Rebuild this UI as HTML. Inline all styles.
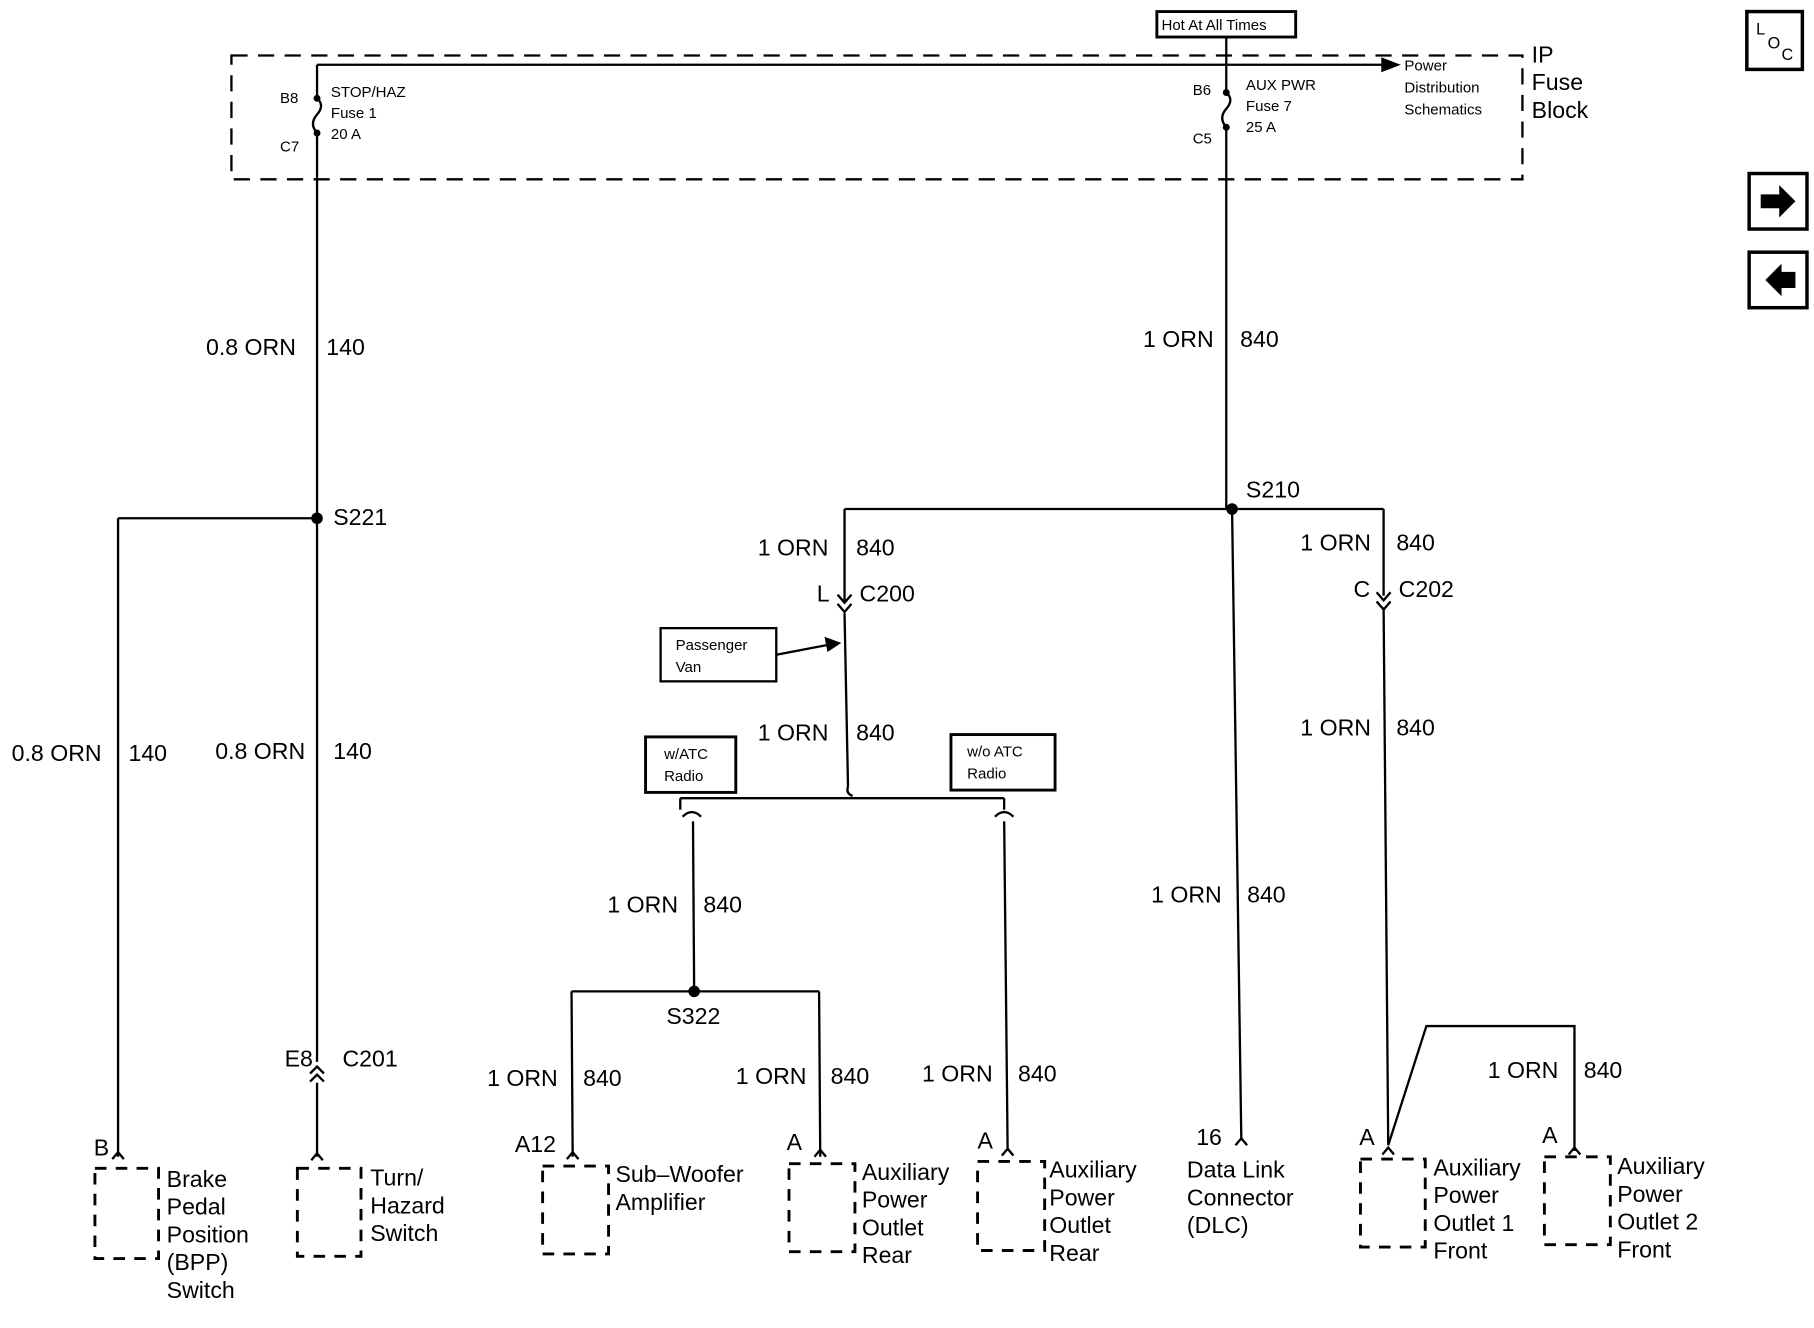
<!DOCTYPE html>
<html><head><meta charset="utf-8"><style>
html,body{margin:0;padding:0;background:#fff;}
svg{display:block;}
text{font-family:"Liberation Sans",Arial,sans-serif;fill:#000;}
</style></head><body>
<svg width="1814" height="1328" viewBox="0 0 1568 1148" xmlns="http://www.w3.org/2000/svg">
<g stroke="#000" stroke-width="2" fill="none">
<path d="M200 48 H1316 V155 H200 Z" stroke-dasharray="14,9"/>
<rect x="1000" y="10" width="120" height="22" stroke-width="2.5"/>
<line x1="1060" y1="32" x2="1060" y2="56"/>
<line x1="274" y1="56" x2="1195" y2="56"/>
<polygon points="1195,51 1208,56 1195,61" fill="#000"/>
<line x1="274" y1="56" x2="274" y2="85"/>
<path d="M274 85 q7 6 0 14 q-7 8 0 16"/>
<line x1="274" y1="115" x2="274" y2="918"/>
<line x1="274" y1="936" x2="274" y2="1000"/>
<line x1="1060" y1="56" x2="1060" y2="80"/>
<path d="M1060 80 q7 6 0 14 q-7 8 0 16"/>
<line x1="1060" y1="110" x2="1060" y2="440"/>
<line x1="102" y1="448" x2="274" y2="448"/>
<line x1="102" y1="448" x2="102" y2="1000"/>
<line x1="730" y1="440" x2="1196" y2="440"/>
<line x1="1065" y1="440" x2="1073" y2="985"/>
<line x1="730" y1="440" x2="730" y2="520"/>
<line x1="730" y1="530" x2="733" y2="680"/>
<line x1="1196" y1="440" x2="1196" y2="515"/>
<line x1="1196" y1="525" x2="1200" y2="990"/>
<path d="M724 514 l6 7 l6 -7 M724 522 l6 7 l6 -7"/>
<path d="M1190 512 l6 7 l6 -7 M1190 520 l6 7 l6 -7"/>
<rect x="571" y="543" width="100" height="46"/>
<line x1="671" y1="566" x2="718" y2="557"/>
<polygon points="714,552 725,556 716,562" fill="#000"/>
<path d="M733 680 q-2 6 4 8"/>
<line x1="588" y1="690" x2="868" y2="690"/>
<line x1="588" y1="690" x2="588" y2="700"/>
<line x1="868" y1="690" x2="868" y2="700"/>
<path d="M590 706 q8 -8 16 0 M860 706 q8 -8 16 0"/>
<rect x="558" y="637" width="78" height="48" stroke-width="2.5"/>
<rect x="822" y="635" width="90" height="48" stroke-width="2.5"/>
<line x1="599" y1="710" x2="600" y2="857"/>
<line x1="868" y1="710" x2="871" y2="995"/>
<line x1="494" y1="857" x2="708" y2="857"/>
<line x1="494" y1="857" x2="495" y2="1000"/>
<line x1="708" y1="857" x2="709" y2="1000"/>
<polyline points="1200,990 1233,887 1361,887 1361,995"/>
<path d="M268 928 l6 -6 l6 6 M268 935 l6 -6 l6 6"/>
<path d="M97 1002 l5 -6 l5 6 M269 1003 l5 -6 l5 6 M490 1002 l5 -6 l5 6 M704 1000 l5 -6 l5 6 M866 999 l5 -6 l5 6 M1068 990 l5 -6 l5 6 M1195 998 l5 -6 l5 6 M1356 998 l5 -6 l5 6"/>
<g stroke-dasharray="10,8" stroke-width="2.5">
<rect x="82" y="1010" width="55" height="78"/>
<rect x="257" y="1010" width="55" height="76"/>
<rect x="469" y="1008" width="57" height="76"/>
<rect x="682" y="1006" width="57" height="76"/>
<rect x="845" y="1004" width="58" height="77"/>
<rect x="1176" y="1002" width="56" height="76"/>
<rect x="1335" y="1000" width="57" height="76"/>
</g>
<rect x="1510" y="10" width="48" height="50" stroke-width="3"/>
<rect x="1512" y="150" width="50" height="48" stroke-width="3"/>
<rect x="1512" y="218" width="50" height="48" stroke-width="3"/>
</g>
<g fill="#000">
<circle cx="274" cy="448" r="5"/>
<circle cx="1065" cy="440" r="5"/>
<circle cx="600" cy="857" r="5"/>
<circle cx="274" cy="85" r="3"/><circle cx="274" cy="115" r="3"/>
<circle cx="1060" cy="80" r="3"/><circle cx="1060" cy="110" r="3"/>
<polygon points="1522,168 1538,168 1538,160 1552,174 1538,188 1538,180 1522,180"/>
<polygon points="1552,235 1540,235 1540,228 1526,242 1540,256 1540,249 1552,249"/>
</g>
<g font-size="13">
<text x="1004" y="26">Hot At All Times</text>
<text x="286" y="84">STOP/HAZ</text><text x="286" y="102">Fuse 1</text><text x="286" y="120">20 A</text>
<text x="242" y="89">B8</text><text x="242" y="131">C7</text>
<text x="1077" y="78">AUX PWR</text><text x="1077" y="96">Fuse 7</text><text x="1077" y="114">25 A</text>
<text x="1031" y="82">B6</text><text x="1031" y="124">C5</text>
<text x="1214" y="61">Power</text><text x="1214" y="80">Distribution</text><text x="1214" y="99">Schematics</text>
<text x="584" y="562">Passenger</text><text x="584" y="581">Van</text>
<text x="574" y="656">w/ATC</text><text x="574" y="675">Radio</text>
<text x="836" y="654">w/o ATC</text><text x="836" y="673">Radio</text>
</g>
<g font-size="20">
<text x="1324" y="54">IP</text><text x="1324" y="78">Fuse</text><text x="1324" y="102">Block</text>
<text x="1518" y="30" font-size="14">L</text><text x="1528" y="42" font-size="14">O</text><text x="1540" y="52" font-size="14">C</text>
<text x="178" y="307">0.8 ORN</text><text x="282" y="307">140</text>
<text x="988" y="300">1 ORN</text><text x="1072" y="300">840</text>
<text x="288" y="454">S221</text>
<text x="1077" y="430">S210</text>
<text x="655" y="480">1 ORN</text><text x="740" y="480">840</text>
<text x="706" y="520">L</text><text x="743" y="520">C200</text>
<text x="1124" y="476">1 ORN</text><text x="1207" y="476">840</text>
<text x="1170" y="516">C</text><text x="1209" y="516">C202</text>
<text x="655" y="640">1 ORN</text><text x="740" y="640">840</text>
<text x="1124" y="636">1 ORN</text><text x="1207" y="636">840</text>
<text x="10" y="658">0.8 ORN</text><text x="111" y="658">140</text>
<text x="186" y="656">0.8 ORN</text><text x="288" y="656">140</text>
<text x="525" y="789">1 ORN</text><text x="608" y="789">840</text>
<text x="995" y="780">1 ORN</text><text x="1078" y="780">840</text>
<text x="576" y="885">S322</text>
<text x="246" y="922">E8</text><text x="296" y="922">C201</text>
<text x="421" y="939">1 ORN</text><text x="504" y="939">840</text>
<text x="636" y="937">1 ORN</text><text x="718" y="937">840</text>
<text x="797" y="935">1 ORN</text><text x="880" y="935">840</text>
<text x="1286" y="932">1 ORN</text><text x="1369" y="932">840</text>
<text x="81" y="999">B</text><text x="445" y="996">A12</text><text x="680" y="994">A</text>
<text x="845" y="993">A</text><text x="1034" y="990">16</text><text x="1175" y="990">A</text><text x="1333" y="988">A</text>
<text x="144" y="1026">Brake</text><text x="144" y="1050">Pedal</text><text x="144" y="1074">Position</text><text x="144" y="1098">(BPP)</text><text x="144" y="1122">Switch</text>
<text x="320" y="1025">Turn/</text><text x="320" y="1049">Hazard</text><text x="320" y="1073">Switch</text>
<text x="532" y="1022">Sub–Woofer</text><text x="532" y="1046">Amplifier</text>
<text x="745" y="1020">Auxiliary</text><text x="745" y="1044">Power</text><text x="745" y="1068">Outlet</text><text x="745" y="1092">Rear</text>
<text x="907" y="1018">Auxiliary</text><text x="907" y="1042">Power</text><text x="907" y="1066">Outlet</text><text x="907" y="1090">Rear</text>
<text x="1026" y="1018">Data Link</text><text x="1026" y="1042">Connector</text><text x="1026" y="1066">(DLC)</text>
<text x="1239" y="1016">Auxiliary</text><text x="1239" y="1040">Power</text><text x="1239" y="1064">Outlet 1</text><text x="1239" y="1088">Front</text>
<text x="1398" y="1015">Auxiliary</text><text x="1398" y="1039">Power</text><text x="1398" y="1063">Outlet 2</text><text x="1398" y="1087">Front</text>
</g>
</svg>
</body></html>
